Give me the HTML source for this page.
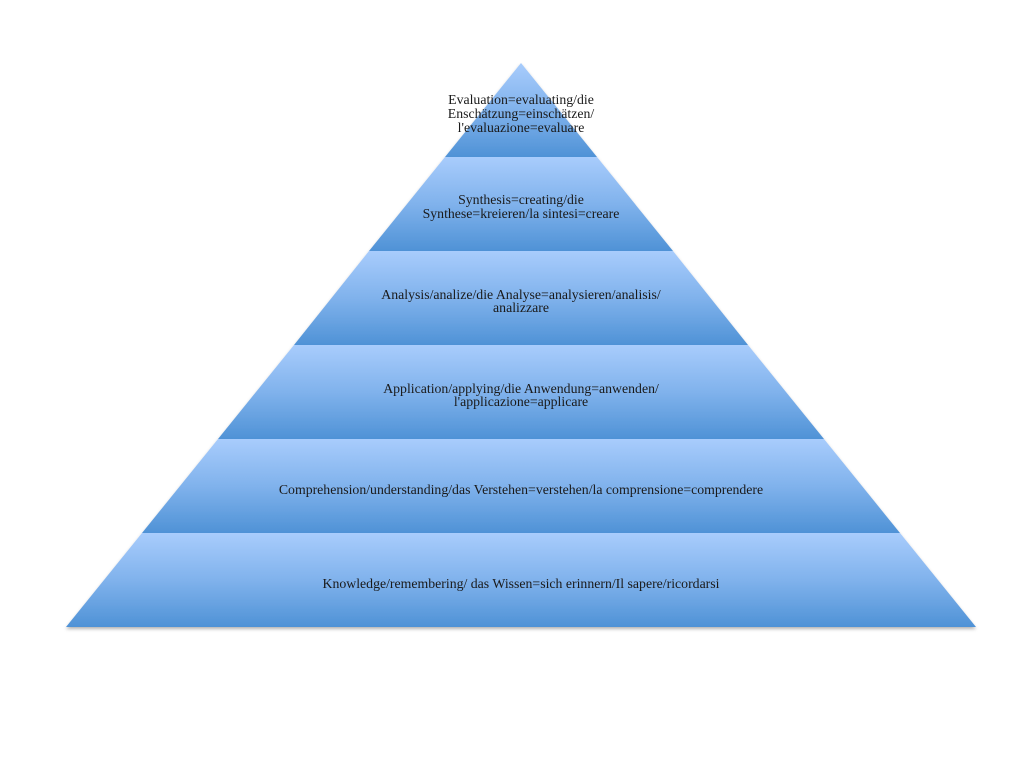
<!DOCTYPE html>
<html><head><meta charset="utf-8"><style>
html,body{margin:0;padding:0;background:#fff;}
svg{display:block;}
text{font-family:"Liberation Serif",serif;font-size:13.8px;fill:#1a1a1a;}
</style></head><body>
<svg width="1024" height="765" viewBox="0 0 1024 765">
<defs>
<linearGradient id="g" x1="0" y1="0" x2="0" y2="1">
<stop offset="0" stop-color="#a8ccfc"/>
<stop offset="0.5" stop-color="#80b2ec"/>
<stop offset="1" stop-color="#4f92d6"/>
</linearGradient>
<filter id="sh" x="-5%" y="-5%" width="110%" height="115%">
<feDropShadow dx="0" dy="2" stdDeviation="1.5" flood-color="#000" flood-opacity="0.3"/>
</filter>
</defs>
<g filter="url(#sh)">
<polygon points="521,63 597,157 445,157" fill="url(#g)"/>
<polygon points="445,157 597,157 673,251 369,251" fill="url(#g)"/>
<polygon points="369,251 673,251 748,345 294,345" fill="url(#g)"/>
<polygon points="294,345 748,345 824,439 218,439" fill="url(#g)"/>
<polygon points="218,439 824,439 900,533 142,533" fill="url(#g)"/>
<polygon points="142,533 900,533 976,627 66,627" fill="url(#g)"/>
</g>
<g text-anchor="middle">
<text x="521" y="104">Evaluation=evaluating/die</text>
<text x="521" y="118">Enschätzung=einschätzen/</text>
<text x="521" y="132">l'evaluazione=evaluare</text>
<text x="521" y="204">Synthesis=creating/die</text>
<text x="521" y="218">Synthese=kreieren/la sintesi=creare</text>
<text x="521" y="299">Analysis/analize/die Analyse=analysieren/analisis/</text>
<text x="521" y="312">analizzare</text>
<text x="521" y="393">Application/applying/die Anwendung=anwenden/</text>
<text x="521" y="406">l'applicazione=applicare</text>
<text x="521" y="494">Comprehension/understanding/das Verstehen=verstehen/la comprensione=comprendere</text>
<text x="521" y="588">Knowledge/remembering/ das Wissen=sich erinnern/Il sapere/ricordarsi</text>
</g>
</svg>
</body></html>
